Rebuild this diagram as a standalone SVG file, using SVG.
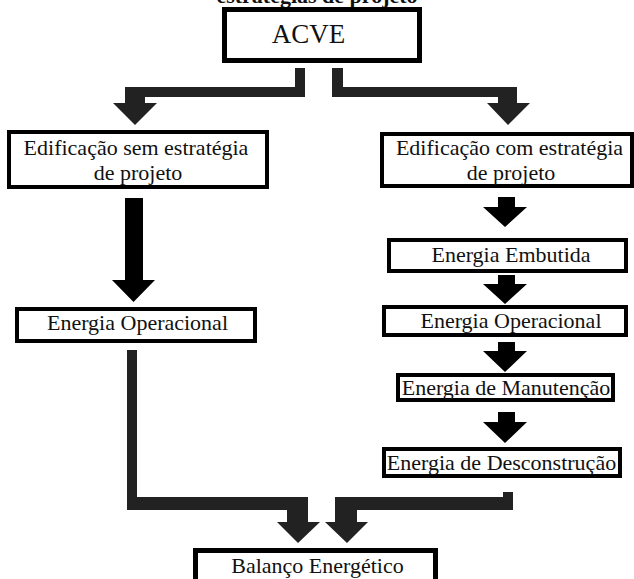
<svg xmlns="http://www.w3.org/2000/svg" width="634" height="579" viewBox="0 0 634 579">
  <style>
    .box { fill: #fff; stroke: #000; stroke-width: 4; }
    .box-heavy { fill: #fff; stroke: #000; stroke-width: 5; }
    .lbl { font-size: 22px; fill: #111; text-anchor: middle; }
    .title { font-size: 22px; font-weight: bold; fill: #111; text-anchor: middle; }
    .pipe { fill: #222; }
    .arrow { fill: #000; }
  </style>
  <rect width="634" height="579" fill="#fff"/>

  <g font-family="'Liberation Serif', 'Times New Roman', serif">
    <!-- heading, clipped at the top edge -->
    <text class="title" x="317" y="3">estratégias de projeto</text>

    <g id="acve">
      <rect class="box-heavy" x="224.5" y="9.5" width="195" height="51"/>
      <text class="lbl" x="308.5" y="43" style="font-size:27px">ACVE</text>
    </g>

    <g id="sem-estrategia">
      <rect class="box" x="9" y="132" width="258" height="55"/>
      <text class="lbl" x="136" y="155">Edificação sem estratégia</text>
      <text class="lbl" x="138" y="180">de projeto</text>
    </g>

    <g id="com-estrategia">
      <rect class="box" x="382" y="134" width="250" height="52"/>
      <text class="lbl" x="509.5" y="155">Edificação com estratégia</text>
      <text class="lbl" x="511" y="180">de projeto</text>
    </g>

    <g id="operacional-sem">
      <rect class="box" x="17" y="309" width="238" height="32"/>
      <text class="lbl" x="137.5" y="330">Energia Operacional</text>
    </g>

    <g id="embutida">
      <rect class="box" x="389" y="240" width="237" height="31"/>
      <text class="lbl" x="511" y="262">Energia Embutida</text>
    </g>

    <g id="operacional-com">
      <rect class="box" x="384" y="307" width="242" height="28"/>
      <text class="lbl" x="511" y="328">Energia Operacional</text>
    </g>

    <g id="manutencao">
      <rect class="box" x="398" y="375" width="215" height="25"/>
      <text class="lbl" x="506" y="395">Energia de Manutenção</text>
    </g>

    <g id="desconstrucao">
      <rect class="box" x="384" y="449" width="236" height="27"/>
      <text class="lbl" x="501.5" y="470">Energia de Desconstrução</text>
    </g>

    <g id="balanco">
      <rect class="box-heavy" x="195.5" y="550.5" width="240" height="45"/>
      <text class="lbl" x="317.5" y="573">Balanço Energético</text>
    </g>
  </g>

  <g id="connectors">
    <!-- split from ACVE -->
    <path class="pipe" d="M295,68 H305 V97 H145 V103 H157 L135,125 L113,103 H125 V87 H295 Z"/>
    <path class="pipe" d="M332,68 H343 V87 H517 V103 H530 L508,125 L487,103 H498 V97 H332 Z"/>
    <!-- left column -->
    <path class="arrow" d="M125,198 H143 V280 H155 L133.5,302 L112,280 H125 Z"/>
    <!-- right column chain -->
    <path class="arrow" d="M498,197 H515 V207 H527 L505,227 L483,207 H498 Z"/>
    <path class="arrow" d="M498,275 H515 V284 H527 L505,304 L483,284 H498 Z"/>
    <path class="arrow" d="M498,342 H515 V351 H527 L505,372 L483,351 H498 Z"/>
    <path class="arrow" d="M498,412 H515 V422 H527 L505,443 L483,422 H498 Z"/>
    <!-- merge into Balanço Energético -->
    <path class="pipe" d="M127,350 H137 V497 H308 V522 H320 L298,543 L277,522 H287 V510 H127 Z"/>
    <path class="pipe" d="M513,492 V510 H357 V522 H368 L347,543 L325,522 H335 V497 H503 V492 Z"/>
  </g>
</svg>
